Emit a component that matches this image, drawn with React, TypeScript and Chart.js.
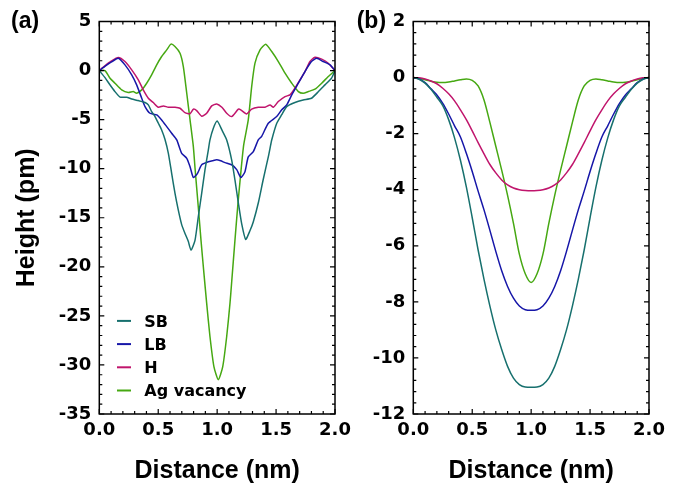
import React, { useEffect, useRef } from 'react';
import { Chart, registerables } from 'chart.js';

Chart.register(...registerables);

// ---------- data ----------
const seriesNames = ['SB', 'LB', 'H', 'Ag vacancy'];

// Panel (a)
const sbAX = [0, 0.05, 0.09, 0.13, 0.176, 0.232, 0.275, 0.331, 0.388, 0.416, 0.444, 0.473, 0.501, 0.529, 0.557, 0.586, 0.614, 0.642, 0.67, 0.699, 0.727, 0.755, 0.778, 0.812, 0.84, 0.869, 0.897, 0.925, 0.939, 0.967, 1.0, 1.04, 1.081, 1.123, 1.151, 1.18, 1.208, 1.242, 1.279, 1.307, 1.349, 1.39, 1.434, 1.449, 1.463, 1.505, 1.548, 1.59, 1.66, 1.73, 1.8, 1.86, 1.915, 1.97, 2.0];
const sbAY = [0, -0.75, -1.45, -2.1, -2.7, -2.72, -2.9, -3.06, -3.26, -3.5, -4.18, -4.69, -5.37, -6.05, -7.0, -8.43, -10.47, -12.5, -14.2, -15.7, -16.6, -17.4, -18.3, -17.3, -14.9, -12.5, -10.1, -8.1, -7.07, -5.9, -5.15, -6.05, -7.07, -9.1, -11.15, -13.5, -15.6, -17.2, -16.3, -15.4, -13.5, -11.15, -8.8, -7.9, -7.07, -5.4, -4.5, -3.67, -3.26, -3.0, -2.82, -2.14, -1.46, -0.78, 0];

const lbAX = [0, 0.05, 0.1, 0.161, 0.218, 0.275, 0.317, 0.36, 0.388, 0.43, 0.487, 0.529, 0.572, 0.614, 0.657, 0.699, 0.742, 0.77, 0.798, 0.832, 0.869, 0.925, 0.96, 0.996, 1.03, 1.067, 1.123, 1.166, 1.202, 1.236, 1.264, 1.307, 1.349, 1.378, 1.434, 1.505, 1.548, 1.59, 1.633, 1.689, 1.745, 1.8, 1.845, 1.9, 1.958, 2.0];
const lbAY = [0, 0.45, 0.85, 1.26, 0.58, -0.44, -1.46, -2.82, -3.67, -4.35, -4.52, -5.03, -5.71, -6.39, -7.07, -8.43, -8.94, -9.8, -10.9, -10.5, -9.6, -9.3, -9.2, -9.1, -9.2, -9.38, -9.6, -10.1, -10.9, -10.3, -8.8, -8.26, -7.07, -6.7, -5.37, -4.69, -4.0, -3.5, -2.48, -1.29, -0.1, 0.92, 1.26, 0.92, 0.58, 0];

const hAX = [0, 0.05, 0.1, 0.161, 0.218, 0.275, 0.331, 0.373, 0.416, 0.458, 0.501, 0.543, 0.586, 0.642, 0.685, 0.727, 0.77, 0.798, 0.826, 0.869, 0.911, 0.954, 0.996, 1.04, 1.081, 1.123, 1.18, 1.2, 1.25, 1.293, 1.349, 1.406, 1.449, 1.477, 1.519, 1.576, 1.618, 1.66, 1.703, 1.745, 1.788, 1.83, 1.887, 1.943, 2.0];
const hAY = [0, 0.5, 0.95, 1.33, 0.92, 0.07, -0.95, -1.97, -2.82, -3.26, -3.74, -3.6, -3.74, -3.74, -3.84, -4.28, -4.4, -3.94, -4.08, -4.65, -4.35, -3.6, -3.4, -3.74, -4.35, -4.69, -3.94, -4.0, -4.42, -3.94, -3.74, -3.74, -3.5, -3.74, -3.16, -2.65, -2.48, -1.8, -0.95, -0.1, 0.92, 1.36, 1.16, 0.75, 0];

const agAX = [0, 0.048, 0.091, 0.133, 0.19, 0.246, 0.288, 0.317, 0.36, 0.402, 0.444, 0.487, 0.529, 0.572, 0.608, 0.642, 0.685, 0.713, 0.742, 0.77, 0.798, 0.812, 0.84, 0.863, 0.888, 0.911, 0.939, 0.973, 1.01, 1.047, 1.081, 1.109, 1.123, 1.151, 1.174, 1.2, 1.225, 1.264, 1.293, 1.321, 1.364, 1.412, 1.463, 1.519, 1.576, 1.633, 1.689, 1.73, 1.774, 1.83, 1.887, 1.943, 2.0];
const agAY = [0, 0, -0.78, -1.29, -1.97, -2.24, -2.14, -2.31, -1.97, -1.29, -0.44, 0.58, 1.43, 2.11, 2.69, 2.45, 1.77, 0.41, -2.31, -5.03, -7.75, -9.9, -13.9, -17.3, -20.7, -23.7, -27.1, -30.2, -31.5, -30.2, -27.1, -23.7, -21.6, -17.3, -13.9, -10.5, -7.6, -5.03, -1.63, 0.75, 2.11, 2.69, 1.94, 0.92, -0.27, -1.29, -2.14, -2.31, -2.14, -1.9, -1.29, -0.61, 0];

// Panel (b)
const bX = [0, 0.05, 0.1, 0.15, 0.2, 0.25, 0.3, 0.35, 0.4, 0.45, 0.5, 0.55, 0.6, 0.65, 0.7, 0.75, 0.8, 0.85, 0.9, 0.95, 1.0, 1.05, 1.1, 1.15, 1.2, 1.25, 1.3, 1.35, 1.4, 1.45, 1.5, 1.55, 1.6, 1.65, 1.7, 1.75, 1.8, 1.85, 1.9, 1.95, 2.0];
const sbBY = [0, -0.06, -0.2, -0.42, -0.7, -1.0, -1.5, -2.15, -2.95, -3.9, -5.0, -6.15, -7.2, -8.15, -9.0, -9.7, -10.3, -10.72, -10.95, -11.04, -11.05, -11.04, -10.95, -10.72, -10.3, -9.7, -9.0, -8.15, -7.2, -6.15, -5.0, -3.9, -2.95, -2.15, -1.5, -1.0, -0.7, -0.42, -0.2, -0.06, 0];
const lbBY = [0, -0.05, -0.18, -0.4, -0.62, -0.92, -1.3, -1.72, -2.12, -2.7, -3.35, -4.05, -4.72, -5.45, -6.2, -6.89, -7.45, -7.87, -8.15, -8.28, -8.3, -8.28, -8.15, -7.87, -7.45, -6.89, -6.2, -5.45, -4.72, -4.05, -3.35, -2.7, -2.12, -1.72, -1.3, -0.92, -0.62, -0.4, -0.18, -0.05, 0];
const hBY = [0, -0.01, -0.05, -0.12, -0.22, -0.38, -0.58, -0.83, -1.15, -1.5, -1.9, -2.32, -2.72, -3.1, -3.4, -3.65, -3.83, -3.94, -4.0, -4.03, -4.04, -4.03, -4.0, -3.94, -3.83, -3.65, -3.4, -3.1, -2.72, -2.32, -1.9, -1.5, -1.15, -0.83, -0.58, -0.38, -0.22, -0.12, -0.05, -0.01, 0];
const agBY = [0, -0.03, -0.08, -0.13, -0.17, -0.18, -0.16, -0.12, -0.08, -0.05, -0.1, -0.3, -0.8, -1.6, -2.45, -3.3, -4.2, -5.2, -6.3, -7.0, -7.31, -7.0, -6.3, -5.2, -4.2, -3.3, -2.45, -1.6, -0.8, -0.3, -0.1, -0.05, -0.08, -0.12, -0.16, -0.18, -0.17, -0.13, -0.08, -0.03, 0];

// Tick labels
const xTickVals = [0, 0.5, 1.0, 1.5, 2.0];
const yTickValsA = [5, 0, -5, -10, -15, -20, -25, -30, -35];
const yTickValsB = [2, 0, -2, -4, -6, -8, -10, -12];

// ---------- styles ----------
const seriesColors = ['#17706e', '#1616a8', '#c0156c', '#46a812'];
const TICK_FONT = { family: '"DejaVu Sans", sans-serif', size: 18, weight: 'bold' as const };
const TITLE_FONT = { family: '"Liberation Sans", Arial, sans-serif', size: 25, weight: 'bold' as const };

const pts = (xs: number[], ys: number[]) => xs.map((x, i) => ({ x, y: ys[i] }));

const framePlugin = {
  id: 'frame',
  afterDatasetsDraw(chart: any, _args: any, opts: any) {
    const { ctx, chartArea: a } = chart;
    const xs = chart.scales.x;
    const ys = chart.scales.y;
    ctx.save();
    ctx.strokeStyle = '#000';
    ctx.lineWidth = 1.5;
    ctx.strokeRect(a.left, a.top, a.right - a.left, a.bottom - a.top);
    ctx.lineWidth = 1.2;
    const drawTicks = (scale: any, minor: number, major: number, horizontal: boolean) => {
      const n = Math.round((scale.max - scale.min) / minor);
      for (let i = 0; i <= n; i++) {
        const v = scale.min + i * minor;
        const r = v / major;
        const isMajor = Math.abs(r - Math.round(r)) < 1e-6;
        const len = isMajor ? 5 : 3;
        const p = scale.getPixelForValue(v);
        ctx.beginPath();
        if (horizontal) {
          ctx.moveTo(p, a.bottom); ctx.lineTo(p, a.bottom - len);
          ctx.moveTo(p, a.top); ctx.lineTo(p, a.top + len);
        } else {
          ctx.moveTo(a.left, p); ctx.lineTo(a.left + len, p);
          ctx.moveTo(a.right, p); ctx.lineTo(a.right - len, p);
        }
        ctx.stroke();
      }
    };
    drawTicks(xs, opts.xMinor, opts.xMajor, true);
    drawTicks(ys, opts.yMinor, opts.yMajor, false);

    if (opts.panel) {
      ctx.fillStyle = '#000';
      ctx.font = 'bold 23px "Liberation Sans", Arial, sans-serif';
      ctx.textAlign = 'left';
      ctx.textBaseline = 'alphabetic';
      ctx.fillText(opts.panel, opts.panelX, opts.panelY);
    }
    if (opts.legend) {
      ctx.font = 'bold 16px "DejaVu Sans", sans-serif';
      ctx.textAlign = 'left';
      ctx.textBaseline = 'alphabetic';
      chart.data.datasets.forEach((ds: any, i: number) => {
        const base = a.bottom - 87.3 + i * 23.2;
        const ly = base - 5.8;
        ctx.strokeStyle = ds.borderColor;
        ctx.lineWidth = 2;
        ctx.beginPath();
        ctx.moveTo(a.left + 17.7, ly);
        ctx.lineTo(a.left + 31.7, ly);
        ctx.stroke();
        ctx.fillStyle = '#000';
        ctx.fillText(ds.label, a.left + 45, base);
      });
    }
    ctx.restore();
  },
};

function makeConfig(
  datasets: any[],
  yMin: number,
  yMax: number,
  yTicks: number[],
  yAxisWidth: number,
  rightPad: number,
  yTitle: string | null,
  lineOpts: any,
  frameOpts: any,
) {
  return {
    type: 'line' as const,
    data: { datasets },
    plugins: [framePlugin],
    options: {
      responsive: false,
      animation: false as const,
      devicePixelRatio: 1,
      layout: { padding: { left: 0, top: 21.5, right: rightPad, bottom: 0 } },
      elements: { point: { radius: 0 }, line: { borderWidth: 1.5, ...lineOpts } },
      plugins: {
        legend: { display: false },
        tooltip: { enabled: false },
        frame: frameOpts,
      },
      scales: {
        x: {
          type: 'linear' as const,
          min: 0,
          max: 2,
          afterBuildTicks: (s: any) => { s.ticks = xTickVals.map((v) => ({ value: v })); },
          afterFit: (s: any) => { s.height = 74; },
          grid: { display: false, drawTicks: false },
          border: { display: false },
          ticks: {
            font: TICK_FONT,
            color: '#000',
            padding: 6,
            maxRotation: 0,
            autoSkip: false,
            callback: (v: any) => Number(v).toFixed(1),
          },
          title: {
            display: true,
            text: 'Distance (nm)',
            font: { ...TITLE_FONT, lineHeight: 1.2 },
            color: '#000',
            padding: { top: 0, bottom: 2 },
          },
        },
        y: {
          type: 'linear' as const,
          min: yMin,
          max: yMax,
          afterBuildTicks: (s: any) => { s.ticks = yTicks.map((v) => ({ value: v })); },
          afterFit: (s: any) => { s.width = yAxisWidth; },
          grid: { display: false, drawTicks: false },
          border: { display: false },
          ticks: {
            font: TICK_FONT,
            color: '#000',
            padding: 8,
            autoSkip: false,
            callback: (v: any) => String(v),
          },
          title: yTitle
            ? {
                display: true,
                text: yTitle,
                font: { ...TITLE_FONT, lineHeight: 1.2 },
                color: '#000',
                padding: { top: 12.5, bottom: 0 },
              }
            : { display: false },
        },
      },
    },
  };
}

export default function App() {
  const refA = useRef<HTMLCanvasElement>(null);
  const refB = useRef<HTMLCanvasElement>(null);

  useEffect(() => {
    const mk = (sets: { x: number[]; y: number[] }[]) =>
      sets.map((s, i) => ({
        label: seriesNames[i],
        data: pts(s.x, s.y),
        borderColor: seriesColors[i],
        backgroundColor: seriesColors[i],
        fill: false,
      }));

    const dsA = mk([
      { x: sbAX, y: sbAY },
      { x: lbAX, y: lbAY },
      { x: hAX, y: hAY },
      { x: agAX, y: agAY },
    ]);
    const dsB = mk([
      { x: bX, y: sbBY },
      { x: bX, y: lbBY },
      { x: bX, y: hBY },
      { x: bX, y: agBY },
    ]);

    const chartA = new Chart(
      refA.current!,
      makeConfig(dsA, -35, 5, yTickValsA, 99.3, 25, 'Height (pm)', { tension: 0.2 }, {
        xMinor: 0.1, xMajor: 0.5, yMinor: 1, yMajor: 5,
        panel: '(a)', panelX: 11, panelY: 27.5, legend: true,
      }) as any,
    );
    const chartB = new Chart(
      refB.current!,
      makeConfig(dsB, -12, 2, yTickValsB, 68.3, 42, null, { cubicInterpolationMode: 'monotone' }, {
        xMinor: 0.1, xMajor: 0.5, yMinor: 0.4, yMajor: 2,
        panel: '(b)', panelX: 11.7, panelY: 27.5, legend: false,
      }) as any,
    );
    return () => {
      chartA.destroy();
      chartB.destroy();
    };
  }, []);

  return (
    <div style={{ position: 'absolute', left: 0, top: 0, width: 691, height: 488, background: '#fff', overflow: 'hidden' }}>
      <canvas ref={refA} width={360} height={488} style={{ position: 'absolute', left: 0, top: 0 }} />
      <canvas ref={refB} width={346} height={488} style={{ position: 'absolute', left: 345, top: 0 }} />
    </div>
  );
}
